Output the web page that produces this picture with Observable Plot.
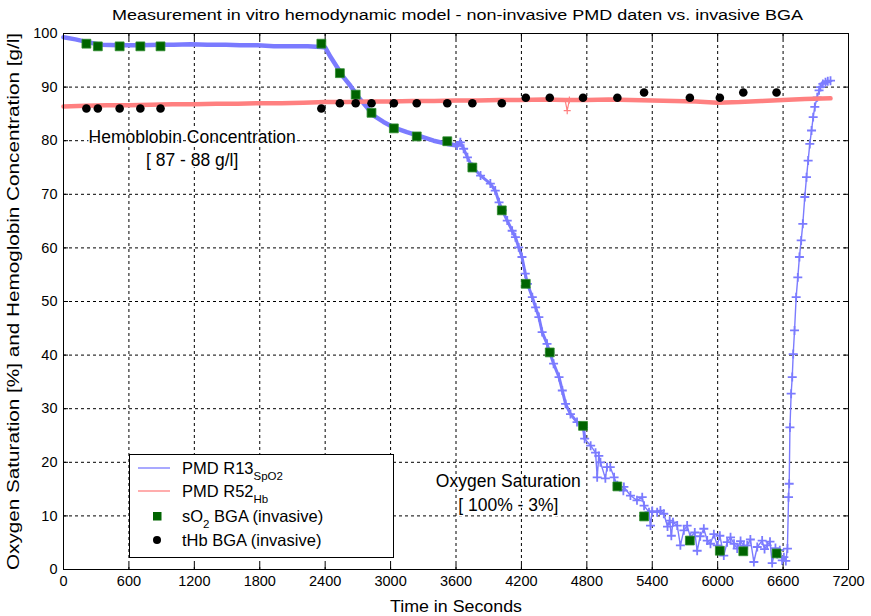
<!DOCTYPE html>
<html><head><meta charset="utf-8">
<script src="https://cdn.jsdelivr.net/npm/d3@7"></script>
<script src="https://cdn.jsdelivr.net/npm/@observablehq/plot@0.6"></script>
<style>
body{margin:0;background:#fff;font-family:"Liberation Sans",Arial,sans-serif;}
#wrap{position:relative;width:871px;height:616px;overflow:hidden;background:#fff;}
#title{position:absolute;left:0;top:0;}
#chart{position:absolute;left:0;top:26px;}
#legend{position:absolute;left:129px;top:454px;}
</style></head><body>
<div id="wrap">
<svg id="title" width="871" height="26"></svg>
<div id="chart"></div>
<svg id="legend" width="265" height="104"></svg>
</div>
<script>
// ---- data ----
const titleText = "Measurement in vitro hemodynamic model - non-invasive PMD daten vs. invasive BGA";
const xLabel = "Time in Seconds";
const yLabel = "Oxygen Saturation [%] and Hemoglobin Concentration [g/l]";
const xTicks = [0,600,1200,1800,2400,3000,3600,4200,4800,5400,6000,6600,7200];
const yTicks = [0,10,20,30,40,50,60,70,80,90,100];

// PMD R13 SpO2 (non-invasive)
const pmdTime = [0,110,220,340,520,700,890,1010,1165,1320,1490,1620,1780,1930,2080,2240,2360,2400,
 2450,2510,2570,2630,2705,2785,2845,2935,3025,3150,3275,3395,3520,3610,3640,3670,3705,3750,3825,3915,3960,3995,
 4025,4070,4115,4145,4175,4205,4235,4255,4300,4330,4360,4390,4435,4460,4495,4545,4575,4605,4650,4710,4770,4780,
 4835,4880,4895,4910,4925,4970,4985,5015,5050,5080,5135,5140,5200,5260,5308,5325,5370,5384,5400,5445,5475,5506,
 5540,5560,5575,5590,5629,5658,5690,5720,5750,5790,5812,5840,5873,5904,5934,5965,5996,6020,6056,6087,6118,6150,
 6179,6210,6240,6271,6300,6332,6363,6408,6430,6454,6480,6500,6530,6546,6570,6592,6607,6625,
 6640,6650,6656,6663,6674,6684,6693,6705,6720,6735,6750,6766,6781,6799,6815,6830,6845,6861,6876,6891,6913,6930,6943,6965,6989,7010,7035];
const pmdSpO2 = [99.3,98.9,98.4,97.9,97.8,97.8,97.9,97.9,98.0,97.9,97.9,97.8,97.8,97.6,97.6,97.6,97.5,97.4,
 95.6,93.7,91.8,90.3,88.1,86.2,84.7,83.5,82.5,81.6,80.8,80.0,79.4,79.1,79.7,78.5,76.9,75.1,73.5,72.0,70.7,68.5,
 67.0,65.1,63.2,62.0,60.1,58.3,55.2,53.3,50.8,48.9,47.1,44.3,42.1,40.5,38.4,35.9,33.4,30.9,29.0,27.5,26.5,24.4,
 23.1,21.8,17.2,21.2,20.0,17.0,19.1,19.1,17.2,15.7,14.7,15.4,13.8,12.9,13.5,11.9,10.7,8.2,10.9,10.7,11.0,10.4,
 8.0,9.1,6.3,8.8,8.2,4.5,7.3,8.2,6.0,6.9,3.5,6.2,7.6,5.4,4.8,6.6,4.5,6.3,2.6,5.1,6.0,4.8,
 3.9,5.3,4.4,4.5,5.6,1.4,4.2,5.4,3.8,4.5,5.2,1.2,4.0,2.9,3.6,1.7,2.3,1.6,
 3.9,13.5,16.0,26.5,32.8,35.9,40.2,44.6,50.8,54.5,58.3,61.4,64.5,69.5,73.2,76.3,79.4,81.9,84.4,86.3,88.1,89.4,90.0,90.6,90.9,91.1,91.2];

// PMD R52 Hb (non-invasive)
const hbTime = [0,200,400,600,800,1000,1200,1400,1600,1800,2000,2200,2400,2600,2800,3000,3200,3400,3600,3800,4000,4200,4400,4600,4620,4640,4800,5000,5200,5400,5600,5800,6000,6200,6400,6600,6800,7035];
const hbValue = [86.4,86.5,86.6,86.6,86.7,86.8,86.8,86.9,86.9,87.0,87.0,87.1,87.2,87.2,87.3,87.3,87.4,87.4,87.5,87.5,87.6,87.6,87.7,87.6,85.6,87.6,87.6,87.7,87.6,87.5,87.4,87.3,87.1,87.2,87.4,87.6,87.8,87.9];

// BGA (invasive) samples
const bgaTime = [210,315,515,705,890,2365,2535,2680,2825,3030,3240,3520,3750,4020,4240,4460,4765,5080,5325,5745,6020,6235,6540];
const bgaSO2 = [98.1,97.6,97.6,97.6,97.6,98.1,92.6,88.6,85.2,82.3,80.8,79.9,75.0,67.0,53.3,40.5,26.8,15.5,9.9,5.4,3.5,3.4,3.0];
const bgaTHb = [86,86,86,86,86,86,87,87,87,87,87,87,87,87,88,88,88,88,89,88,88,89,89];

// annotations
const noteTime = [1180, 4080];
const noteValue = [78.8, 14.6];
const noteText = ["Hemoblobin Concentration\n[ 87 - 88 g/l]", "Oxygen Saturation\n[ 100% - 3%]"];

// legend
const legendMain = ["PMD R13", "PMD R52", "sO", "tHb BGA (invasive)"];
const legendSub = ["SpO2", "Hb", "2", ""];
const legendTail = ["", "", " BGA (invasive)", ""];

// ---- build ----
const BLUE = "#7b7bff", RED = "#ff8080", GREEN = "#006400";
const blue = pmdTime.map((t,i)=>({t, v: pmdSpO2[i]}));
const red = hbTime.map((t,i)=>({t, v: hbValue[i]}));
const bga = bgaTime.map((t,i)=>({t, s: bgaSO2[i], h: bgaTHb[i]}));
const notes = noteTime.map((t,i)=>({t, v: noteValue[i], text: noteText[i]}));
const redMain = red.filter((d,i)=> i===0 || i===red.length-1 || Math.abs(d.v - (red[i-1].v+red[i+1].v)/2) < 1);

const grid = {stroke:"black", strokeOpacity:1, strokeDasharray:"3,3", strokeWidth:1};
const font = "Liberation Sans, Arial, sans-serif";
const fmt = d => String(d);

const chart = Plot.plot({
  width: 871, height: 590,
  marginTop: 7, marginBottom: 47, marginLeft: 63, marginRight: 23,
  style: {fontFamily: font, fontSize: "14.5px", background: "white", color: "black", overflow: "visible"},
  x: {domain: [0, 7200]},
  y: {domain: [0, 100]},
  marks: [
    Plot.gridX(xTicks, grid),
    Plot.gridY(yTicks, grid),
    Plot.line(blue.filter(d => d.t <= 3640), {x: "t", y: "v", stroke: BLUE, strokeWidth: 4.5}),
    Plot.line(blue.filter(d => d.t >= 3600 && d.t <= 4800), {x: "t", y: "v", stroke: BLUE, strokeWidth: 3}),
    Plot.line(blue, {x: "t", y: "v", stroke: BLUE, strokeWidth: 1.4}),
    Plot.dot(blue.filter(d => d.t >= 3600), {x: "t", y: "v", symbol: "plus", r: 3, stroke: BLUE, strokeWidth: 1.8}),
    Plot.line(redMain, {x: "t", y: "v", stroke: RED, strokeWidth: 4.5}),
    Plot.line(red, {x: "t", y: "v", stroke: RED, strokeWidth: 1.2}),
    Plot.dot(red.filter(d => !redMain.includes(d)), {x: "t", y: "v", symbol: "plus", r: 2.4, stroke: RED, strokeWidth: 1.2}),
    Plot.text(notes, {x: "t", y: "v", text: "text", fontSize: 17.5, lineHeight: 1.35, fill: "black", stroke: "white", strokeWidth: 3}),
    Plot.dot(bga, {x: "t", y: "s", symbol: "square", r: 5, fill: GREEN, stroke: "#2e8b2e", strokeWidth: 0.8}),
    Plot.dot(bga, {x: "t", y: "h", r: 4.3, fill: "black", stroke: "none"}),
    Plot.axisX(xTicks, {anchor: "bottom", tickSize: 0, tickPadding: 6, tickFormat: fmt, label: xLabel, labelAnchor: "center", labelArrow: "none", labelOffset: 42}),
    Plot.axisX(xTicks, {anchor: "bottom", tickSize: -5, tickFormat: () => "", label: null}),
    Plot.axisX(xTicks, {anchor: "top", tickSize: -5, tickFormat: () => "", label: null}),
    Plot.axisY(yTicks, {anchor: "left", tickSize: 0, tickPadding: 6, tickFormat: fmt, label: yLabel, labelAnchor: "center", labelArrow: "none", labelOffset: 56}),
    Plot.axisY(yTicks, {anchor: "left", tickSize: -5, tickFormat: () => "", label: null}),
    Plot.axisY(yTicks, {anchor: "right", tickSize: -5, tickFormat: () => "", label: null}),
    Plot.frame({stroke: "black", strokeWidth: 1})
  ]
});
document.getElementById("chart").appendChild(chart);

// label fitting
const xl = chart.querySelector('g[aria-label="x-axis label"] text');
if (xl) { xl.setAttribute("font-size", "16"); xl.setAttribute("textLength", "132"); xl.setAttribute("lengthAdjust", "spacingAndGlyphs"); }
const yl = chart.querySelector('g[aria-label="y-axis label"] text');
if (yl) { yl.setAttribute("font-size", "16"); yl.setAttribute("textLength", "537"); yl.setAttribute("lengthAdjust", "spacingAndGlyphs"); }

// title
d3.select("#title").append("text")
  .attr("x", 457.5).attr("y", 20).attr("text-anchor", "middle")
  .attr("font-family", font).attr("font-size", 15.5)
  .attr("textLength", 691).attr("lengthAdjust", "spacingAndGlyphs")
  .text(titleText);

// legend
const lg = d3.select("#legend");
lg.append("rect").attr("x", 0.5).attr("y", 0.5).attr("width", 264).attr("height", 103)
  .attr("fill", "white").attr("stroke", "black");
const rowY = [14, 37, 62, 86];
const rows = lg.selectAll("g.row").data(legendMain).join("g").attr("class", "row")
  .attr("transform", (d,i) => `translate(0,${rowY[i]})`);
rows.each(function(d, i) {
  const g = d3.select(this);
  if (i === 0 || i === 1) {
    const c = i === 0 ? BLUE : RED;
    g.append("line").attr("x1", 9).attr("x2", 41).attr("y1", 0).attr("y2", 0).attr("stroke", c).attr("stroke-width", 1.3);
    g.append("path").attr("d", d3.symbol(d3.symbolPlus, 16)()).attr("transform", "translate(25,0)").attr("fill", c);
  } else if (i === 2) {
    g.append("rect").attr("x", 24).attr("y", -4).attr("width", 8.5).attr("height", 8.5).attr("fill", GREEN);
  } else {
    g.append("circle").attr("cx", 28).attr("cy", 0).attr("r", 4).attr("fill", "black");
  }
  const t = g.append("text").attr("x", 53).attr("y", 6).attr("font-family", font).attr("font-size", 16.5);
  t.append("tspan").text(d);
  if (legendSub[i]) t.append("tspan").attr("dy", 6).attr("font-size", 11.5).text(legendSub[i]);
  if (legendTail[i]) t.append("tspan").attr("dy", -6).text(legendTail[i]);
});
</script>
</body></html>
